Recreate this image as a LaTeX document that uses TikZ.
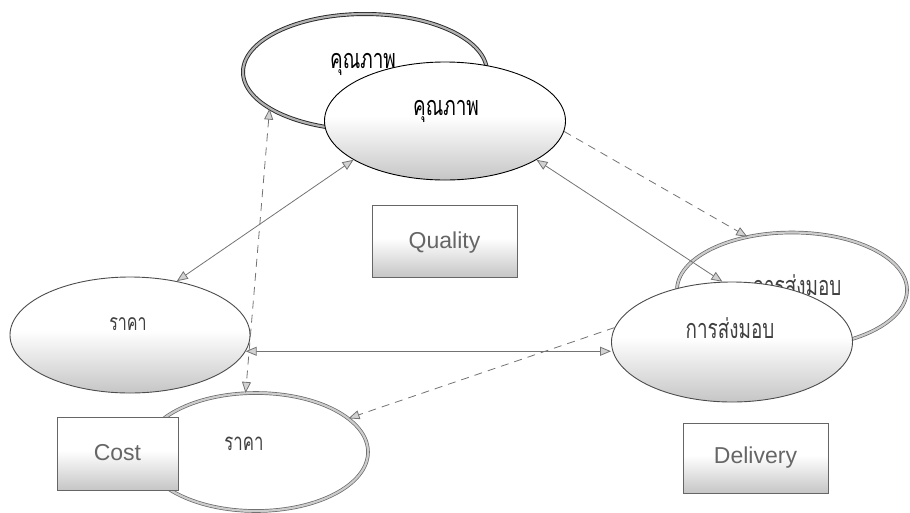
\documentclass[tikz,border=0pt]{standalone}
\usepackage{fontspec}
\setmainfont{Liberation Sans}
\newfontfamily\thai[Script=Thai,FakeStretch=0.7]{Loma}
\usetikzlibrary{shapes.geometric,arrows.meta}

% white top fading into a grey lower part
\pgfdeclareverticalshading{lowgrey}{100bp}{color(0bp)=(gray!40); color(22bp)=(gray!50); color(52bp)=(white); color(100bp)=(white)}

\tikzset{
  frontoval/.style={ellipse, draw=black!70, line width=0.9pt, shading=lowgrey, inner sep=0pt},
  backoval/.style={ellipse, draw=black!60, double=gray!40, double distance=2.2pt, line width=0.7pt, fill=white, inner sep=0pt},
  labelbox/.style={rectangle, draw=black!60, line width=1pt, shading=lowgrey, inner sep=0pt},
  thaitxt/.style={font=\thai\fontsize{27}{30}\selectfont, text=black!75},
  engtxt/.style={font=\fontsize{23}{26}\selectfont, text=black!60},
  link/.style={draw=black!55, line width=0.8pt},
  tip/.style={-{Triangle[length=11pt,width=9pt,fill=gray!35]}},
  tips/.style={{Triangle[length=11pt,width=9pt,fill=gray!35]}-{Triangle[length=11pt,width=9pt,fill=gray!35]}},
  dashlink/.style={link, dash pattern=on 8pt off 6pt}
}

\begin{document}
\begin{tikzpicture}[x=1pt,y=-1pt]
\useasboundingbox (0,0) rectangle (910,512);

% Quality
\node[backoval, draw=black!85, double=gray!60, line width=0.9pt, minimum width=244pt, minimum height=116pt] (qb) at (365,72) {};
\node[thaitxt, text=black] (qbt) at (363,64) {คุณภาพ};
\node[frontoval, draw=black, minimum width=241pt, minimum height=118pt] (qf) at (445,121) {};
\node[thaitxt, text=black] (qft) at (446,111) {คุณภาพ};
\node[labelbox, minimum width=145pt, minimum height=72pt] (qbox) at (444.5,241) {};
\node[engtxt] (qboxt) at (444.5,243) {Quality};

% Cost
\node[frontoval, minimum width=240pt, minimum height=116pt] (cf) at (130,335) {};
\node[thaitxt, font=\thai\fontsize{23}{26}\selectfont] (cft) at (128,324) {ราคา};
\node[backoval, minimum width=224pt, minimum height=118pt] (cb) at (256,452) {};
\node[thaitxt, font=\thai\fontsize{24}{27}\selectfont] (cbt) at (244,444) {ราคา};
\node[labelbox, minimum width=121pt, minimum height=73pt] (cbox) at (117.5,453.5) {};
\node[engtxt] (cboxt) at (117.5,453) {Cost};

% Delivery
\node[backoval, minimum width=230pt, minimum height=115pt] (db) at (792,290) {};
\node[thaitxt] (dbt) at (797,285) {การส่งมอบ};
\node[frontoval, minimum width=241pt, minimum height=120pt] (df) at (732,342) {};
\node[thaitxt] (dft) at (730,328) {การส่งมอบ};
\node[labelbox, minimum width=145pt, minimum height=70pt] (dbox) at (755.5,458) {};
\node[engtxt] (dboxt) at (755.5,458) {Delivery};

% connectors
\draw[link, tips] (qf.203) -- (cf.49);
\draw[link, tips] (qf.337) -- (df.99);
\draw[dashlink, tip] (qf.355) -- (db.130);
\draw[dashlink, tips] (qb.201) -- (cb.100);
\draw[link, tips] (cf.352) -- (cf.352 -| df.west);
\draw[dashlink, tip] (df.173) -- (cb.20);
\end{tikzpicture}
\end{document}
